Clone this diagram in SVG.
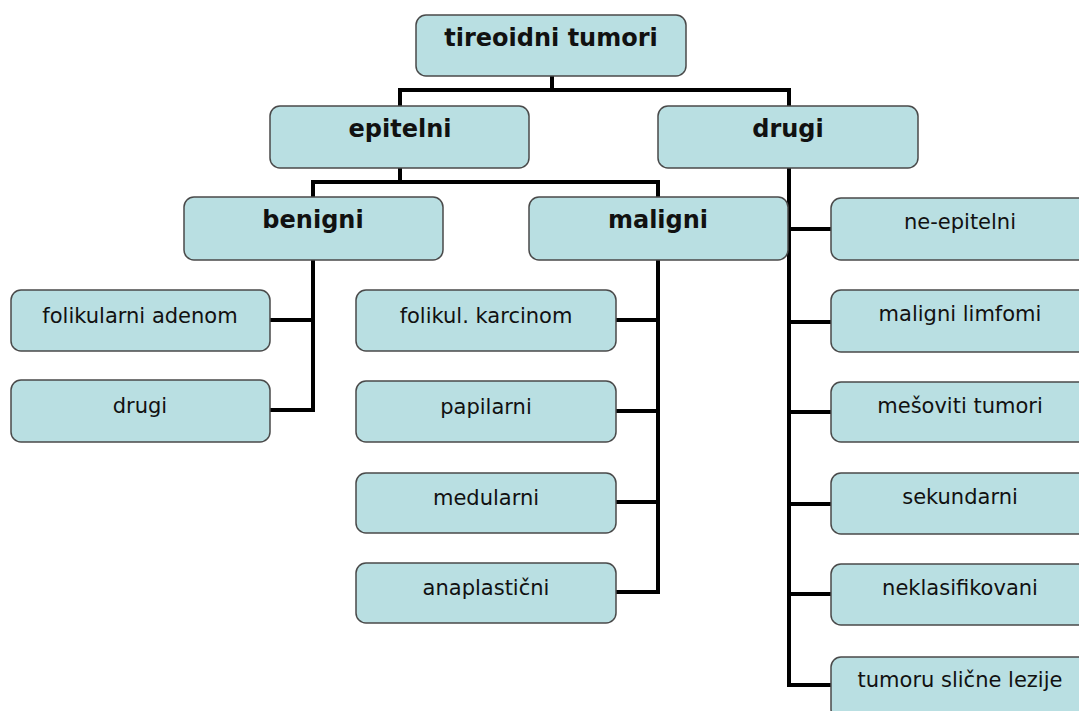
<svg xmlns="http://www.w3.org/2000/svg" width="1079" height="711" viewBox="0 0 1079 711">
<style>
.box{fill:#b9dfe2;stroke:#4a4a4a;stroke-width:1.5}
.h{font-family:"DejaVu Sans",Verdana,sans-serif;font-weight:bold;font-size:24px;fill:#111;text-anchor:middle}
.t{font-family:"DejaVu Sans",Verdana,sans-serif;font-size:21px;fill:#111;text-anchor:middle}
.c{fill:none;stroke:#000;stroke-width:4;stroke-linejoin:miter}
</style>
<rect width="1079" height="711" fill="#fff"/>
<g id="connectors" class="c">
<path d="M552 76V90M400 106V90H789V106"/>
<path d="M400 168V182M313 197V182H658V197"/>
<path d="M270 320H313M270 410H313V260"/>
<path d="M616 320H658M616 411H658M616 502H658M616 592H658V260"/>
<path d="M789 168V685H831M789 229H831M789 322H831M789 412H831M789 504H831M789 594H831"/>
</g>
<g id="n-root"><rect class="box" x="416" y="15" width="270" height="61" rx="10"/><text class="h" x="551" y="46">tireoidni tumori</text></g>
<g id="n-epitelni"><rect class="box" x="270" y="106" width="259" height="62" rx="10"/><text class="h" x="400" y="137">epitelni</text></g>
<g id="n-drugi"><rect class="box" x="658" y="106" width="260" height="62" rx="10"/><text class="h" x="788" y="137">drugi</text></g>
<g id="n-benigni"><rect class="box" x="184" y="197" width="259" height="63" rx="10"/><text class="h" x="313" y="228">benigni</text></g>
<g id="n-maligni"><rect class="box" x="529" y="197" width="259" height="63" rx="10"/><text class="h" x="658" y="228">maligni</text></g>
<g id="n-folikularni"><rect class="box" x="11" y="290" width="259" height="61" rx="10"/><text class="t" x="140" y="323">folikularni adenom</text></g>
<g id="n-drugi2"><rect class="box" x="11" y="380" width="259" height="62" rx="10"/><text class="t" x="140" y="413">drugi</text></g>
<g id="n-folikul"><rect class="box" x="356" y="290" width="260" height="61" rx="10"/><text class="t" x="486" y="323">folikul. karcinom</text></g>
<g id="n-papilarni"><rect class="box" x="356" y="381" width="260" height="61" rx="10"/><text class="t" x="486" y="414">papilarni</text></g>
<g id="n-medularni"><rect class="box" x="356" y="473" width="260" height="60" rx="10"/><text class="t" x="486" y="505">medularni</text></g>
<g id="n-anaplasticni"><rect class="box" x="356" y="563" width="260" height="60" rx="10"/><text class="t" x="486" y="595">anaplastični</text></g>
<g id="n-neepitelni"><rect class="box" x="831" y="198" width="259" height="62" rx="10"/><text class="t" x="960" y="229">ne-epitelni</text></g>
<g id="n-limfomi"><rect class="box" x="831" y="290" width="259" height="62" rx="10"/><text class="t" x="960" y="321">maligni limfomi</text></g>
<g id="n-mesoviti"><rect class="box" x="831" y="382" width="259" height="60" rx="10"/><text class="t" x="960" y="413">mešoviti tumori</text></g>
<g id="n-sekundarni"><rect class="box" x="831" y="473" width="259" height="61" rx="10"/><text class="t" x="960" y="504">sekundarni</text></g>
<g id="n-neklasifikovani"><rect class="box" x="831" y="564" width="259" height="61" rx="10"/><text class="t" x="960" y="595">neklasifikovani</text></g>
<g id="n-tumoru"><rect class="box" x="831" y="657" width="259" height="62" rx="10"/><text class="t" x="960" y="687">tumoru slične lezije</text></g>
</svg>
